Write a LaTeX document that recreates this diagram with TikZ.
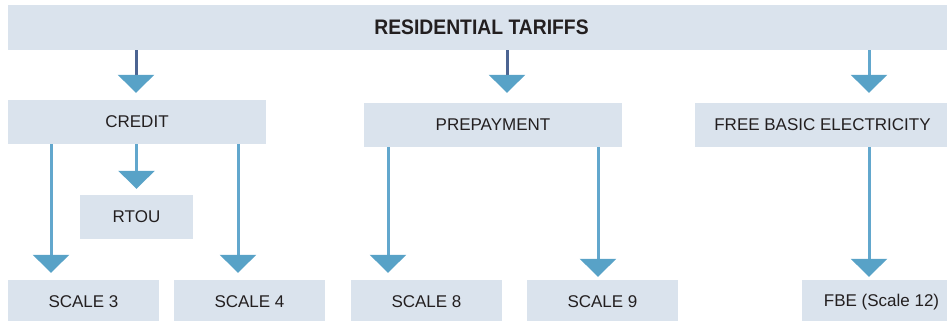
\documentclass[tikz,border=0pt]{standalone}
\usepackage{fontspec}
\setmainfont{Liberation Sans}
\newfontfamily\titlefont{Liberation Sans}[FakeStretch=0.92]
\usetikzlibrary{arrows.meta}
\definecolor{boxfill}{RGB}{218,227,237}
\definecolor{headblue}{RGB}{88,162,199}
\definecolor{darkline}{RGB}{76,100,146}
\definecolor{lightline}{RGB}{98,167,205}
\definecolor{inkgray}{RGB}{35,31,32}

\begin{document}
\begin{tikzpicture}[x=1pt, y=-1pt,
	box/.style={fill=boxfill, inner sep=0pt, minimum height=44pt, text=inkgray, font=\fontsize{17}{20}\selectfont},
	flow/.style={line width=3pt, lightline, -{Triangle[width=36pt, length=18pt, color=headblue]}},
	flowdark/.style={flow, darkline}]
			\useasboundingbox (0,0) rectangle (947,321);
			\node[box, minimum width=947pt, minimum height=45pt, font=\titlefont\bfseries\fontsize{21}{24}\selectfont] (tariffs) at (481.5,27.5) {RESIDENTIAL TARIFFS};
			\node[box, minimum width=258pt] (credit) at (137,122) {CREDIT};
			\node[box, minimum width=258pt] (prepay) at (493,125) {PREPAYMENT};
			\node[box, minimum width=255pt] (fbe) at (822.5,125) {FREE BASIC ELECTRICITY};
			\node[box, minimum width=113pt] (rtou) at (136.5,217) {RTOU};
			\node[box, minimum width=151pt] (scale3) at (83.5,302) {SCALE 3};
			\node[box, minimum width=151pt] (scale4) at (249.5,302) {SCALE 4};
			\node[box, minimum width=151pt] (scale8) at (426.5,302) {SCALE 8};
			\node[box, minimum width=151pt] (scale9) at (602.5,302) {SCALE 9};
			\node[box, minimum width=159pt] (fbe12) at (881.5,302) {FBE (Scale 12)};
			
			\draw[flowdark] ([xshift=-345.5pt]tariffs.south) -- ([xshift=-1pt,yshift=7pt]credit.north);
			\draw[flowdark] ([xshift=25.5pt]tariffs.south) -- ([xshift=14pt,yshift=10pt]prepay.north);
			\draw[flow] ([xshift=387.5pt]tariffs.south) -- ([xshift=46.5pt,yshift=10pt]fbe.north);
			
			\draw[flow] ([xshift=-86pt]credit.south) -- ([xshift=-32.5pt,yshift=7pt]scale3.north);
			\draw[flow] ([xshift=-0.5pt]credit.south) -- ([yshift=6pt]rtou.north);
			\draw[flow] ([xshift=101pt]credit.south) -- ([xshift=-11.5pt,yshift=7pt]scale4.north);
			
			\draw[flow] ([xshift=-105pt]prepay.south) -- ([xshift=-38.5pt,yshift=7pt]scale8.north);
			\draw[flow] ([xshift=105pt]prepay.south) -- ([xshift=-4.5pt,yshift=3pt]scale9.north);
			
			\draw[flow] ([xshift=46.5pt]fbe.south) -- ([xshift=-12.5pt,yshift=3pt]fbe12.north);
		\end{tikzpicture}
\end{document}
